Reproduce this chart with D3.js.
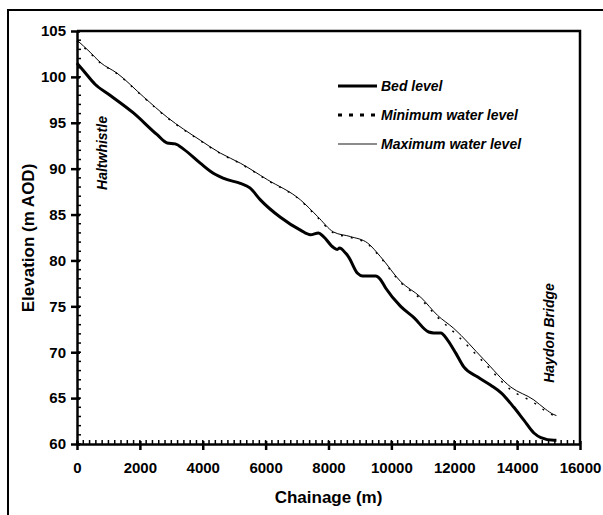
<!DOCTYPE html>
<html>
<head>
<meta charset="utf-8">
<script src="https://cdn.jsdelivr.net/npm/d3@7"></script>
<style>
  body { margin: 0; background: #fff; }
  text { font-family: "Liberation Sans", Arial, sans-serif; font-weight: bold; fill: #000; }
</style>
</head>
<body>
<div id="chart"></div>
<script>
// chainage (m) and levels (m AOD)
var bedChainage = [0, 200, 574, 1050, 1785, 2550, 2870, 3124, 3400, 3920, 4335, 4780, 5195, 5500, 5833,
  6470, 7108, 7426, 7681, 7841, 8160, 8280, 8350, 8542, 8637, 8924, 9084, 9498, 9657, 9817,
  10295, 10709, 11187, 11347, 11570, 11793, 12048, 12303, 12749, 13163, 13482, 13896, 14215,
  14534, 14757, 15171, 15250];
var bedLevel = [101.5, 100.7, 99.2, 98.0, 96.1, 93.7, 92.8, 92.7, 92.1, 90.6, 89.5, 88.8, 88.4, 87.9, 86.6,
  84.7, 83.3, 82.8, 83.0, 82.6, 81.4, 81.2, 81.35, 80.8, 80.4, 78.6, 78.3, 78.3, 77.9, 77.0,
  75.0, 73.8, 72.2, 72.1, 72.1, 71.3, 69.9, 68.4, 67.3, 66.4, 65.6, 64.0, 62.6,
  61.2, 60.7, 60.4, 60.4];

var waterChainage = [0, 414, 733, 1275, 2125, 2870, 3920, 4558, 5195, 6056, 7108, 7650, 8160, 8700,
  9243, 9657, 10295, 10932, 11474, 11984, 12940, 13801, 14534, 14900, 15171, 15250];
var maxLevel = [104.0, 102.7, 101.6, 100.4, 97.8, 95.6, 93.1, 91.7, 90.6, 88.8, 86.6, 84.8, 83.1, 82.6,
  81.9, 80.4, 77.7, 76.0, 74.0, 72.6, 69.2, 66.2, 64.8, 63.8, 63.2, 63.1];
var minLevel = [103.9, 102.6, 101.55, 100.35, 97.75, 95.55, 93.05, 91.65, 90.55, 88.75, 86.55, 84.7, 83.0, 82.5,
  81.8, 80.3, 77.6, 75.8, 73.8, 72.2, 68.9, 65.9, 64.5, 63.6, 63.1, 63.0];

var xTicks = [0, 2000, 4000, 6000, 8000, 10000, 12000, 14000, 16000];
var yTicks = [60, 65, 70, 75, 80, 85, 90, 95, 100, 105];

var legendLabels = ["Bed level", "Minimum water level", "Maximum water level"];

var width = 603;
var height = 515;
var margin = {top: 31, right: 23, bottom: 71, left: 77};
var plotW = width - margin.left - margin.right;
var plotH = height - margin.top - margin.bottom;

var svg = d3.select("#chart")
  .append("svg")
  .attr("width", width)
  .attr("height", height);

// outer frame
svg.append("rect")
  .attr("x", 8)
  .attr("y", 10)
  .attr("width", 700)
  .attr("height", 600)
  .style("fill", "none")
  .style("stroke", "#000")
  .style("stroke-width", 2);

var g = svg.append("g")
  .attr("transform", "translate(" + margin.left + "," + margin.top + ")");

var x = d3.scaleLinear().domain([0, 16000]).range([0, plotW]);
var y = d3.scaleLinear().domain([60, 105]).range([plotH, 0]);

// plot frame, top and right
g.append("path")
  .attr("d", "M0,0H" + plotW + "V" + plotH)
  .style("fill", "none")
  .style("stroke", "#000")
  .style("stroke-width", 2.5);

// minor ticks
g.selectAll(".xMinor")
  .data(d3.range(0, 16001, 200))
  .enter()
  .append("line")
  .attr("x1", function(d){ return x(d); })
  .attr("x2", function(d){ return x(d); })
  .attr("y1", plotH)
  .attr("y2", plotH - 4)
  .style("stroke", "#000")
  .style("stroke-width", 1.5);

g.selectAll(".yMinor")
  .data(d3.range(60, 105.1, 1))
  .enter()
  .append("line")
  .attr("x1", 0)
  .attr("x2", 4)
  .attr("y1", function(d){ return y(d); })
  .attr("y2", function(d){ return y(d); })
  .style("stroke", "#000")
  .style("stroke-width", 1.5);

// axes
var xAxis = g.append("g")
  .attr("transform", "translate(0," + plotH + ")")
  .call(d3.axisBottom(x).tickValues(xTicks).tickFormat(d3.format("d"))
    .tickSize(6).tickPadding(12).tickSizeOuter(0));

var yAxis = g.append("g")
  .call(d3.axisLeft(y).tickValues(yTicks).tickFormat(d3.format("d"))
    .tickSize(6).tickPadding(5).tickSizeOuter(0));

[xAxis, yAxis].forEach(function(a){
  a.attr("font-family", null).attr("font-size", null);
  a.select(".domain").style("stroke-width", 2.5);
  a.selectAll(".tick line").style("stroke-width", 2.5);
  a.selectAll(".tick text").style("font-size", "15px");
});
xAxis.selectAll(".tick line").attr("y1", -3);
yAxis.selectAll(".tick line").attr("x1", 3);

// lines
var bedLine = d3.line()
  .x(function(d, i){ return x(bedChainage[i]); })
  .y(function(d){ return y(d); })
  .curve(d3.curveMonotoneX);

var waterLine = d3.line()
  .x(function(d, i){ return x(waterChainage[i]); })
  .y(function(d){ return y(d); })
  .curve(d3.curveMonotoneX);

g.append("path")
  .attr("d", waterLine(maxLevel))
  .style("fill", "none")
  .style("stroke", "#000")
  .style("stroke-width", 1);

g.append("path")
  .attr("d", waterLine(minLevel))
  .style("fill", "none")
  .style("stroke", "#000")
  .style("stroke-width", 1.5)
  .style("stroke-dasharray", "2,8");

g.append("path")
  .attr("d", bedLine(bedLevel))
  .style("fill", "none")
  .style("stroke", "#000")
  .style("stroke-width", 3);

// legend
var legendStyles = [
  {w: 3, dash: null, color: "#000"},
  {w: 3, dash: "4,7", color: "#000"},
  {w: 1.5, dash: null, color: "#666"}
];
var legend = svg.append("g")
  .attr("transform", "translate(338,86)");

legendLabels.forEach(function(label, i){
  var row = legend.append("g").attr("transform", "translate(0," + (i * 29) + ")");
  row.append("line")
    .attr("x1", 0)
    .attr("x2", 39)
    .style("stroke", legendStyles[i].color)
    .style("stroke-width", legendStyles[i].w)
    .style("stroke-dasharray", legendStyles[i].dash);
  row.append("text")
    .attr("x", 43)
    .attr("dy", "0.35em")
    .style("font-size", "14px")
    .style("font-style", "italic")
    .text(label);
});

// place labels
svg.append("text")
  .attr("transform", "translate(107,153) rotate(-90)")
  .style("text-anchor", "middle")
  .style("font-size", "14px")
  .style("font-style", "italic")
  .text("Haltwhistle");

svg.append("text")
  .attr("transform", "translate(554,333) rotate(-90)")
  .style("text-anchor", "middle")
  .style("font-size", "14px")
  .style("font-style", "italic")
  .text("Haydon Bridge");

// axis titles
svg.append("text")
  .attr("x", margin.left + plotW / 2)
  .attr("y", 503)
  .style("text-anchor", "middle")
  .style("font-size", "17px")
  .text("Chainage (m)");

svg.append("text")
  .attr("transform", "translate(34,238) rotate(-90)")
  .style("text-anchor", "middle")
  .style("font-size", "17px")
  .text("Elevation (m AOD)");
</script>
</body>
</html>
